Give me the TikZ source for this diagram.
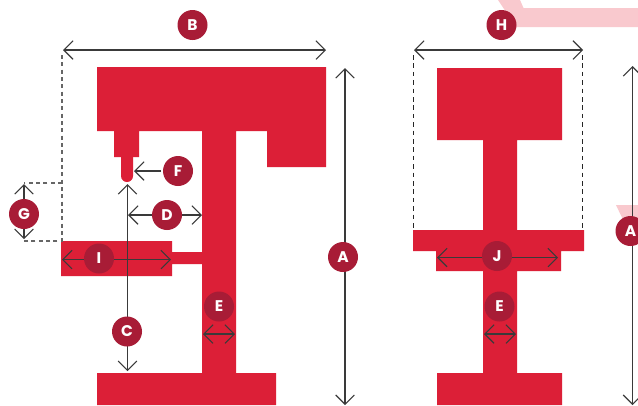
\documentclass[tikz,border=0pt]{standalone}
\usepackage{fontspec}
\setmainfont{Poppins}
\usetikzlibrary{arrows.meta}
\definecolor{partred}{HTML}{DC1F37}
\definecolor{badge}{HTML}{A81C36}
\definecolor{paleband}{HTML}{F9C9CE}
\definecolor{dimline}{HTML}{3A3A3A}
\definecolor{dashgrey}{HTML}{666666}
\tikzset{
  x=0.75pt,y=-0.75pt,
  part/.style={fill=partred,draw=none},
  pale/.style={fill=paleband,draw=none},
  dimen/.style={draw=dimline,line width=1pt,{Straight Barb[length=7pt,width=14pt,line width=0.8pt]}-{Straight Barb[length=7pt,width=14pt,line width=0.8pt]}},
  dimone/.style={draw=dimline,line width=1pt,-{Straight Barb[length=7pt,width=14pt,line width=0.8pt]}},
  guide/.style={draw=dashgrey,line width=1pt,dash pattern=on 3pt off 2.5pt},
  guideblack/.style={draw=black!85,line width=0.8pt,dash pattern=on 3.5pt off 2.8pt},
  tag/.style={circle,fill=badge,draw=none,text=white,minimum size=22.5pt,inner sep=0pt,font=\fontsize{11.6pt}{11.6pt}\selectfont\bfseries},
}
\begin{document}
\begin{tikzpicture}
\useasboundingbox (0,0) rectangle (638,405);
\fill[white] (0,0) rectangle (638,405);
% pale background bands
\fill[pale] (498,0) -- (520,0) -- (523.5,8) -- (638,8) -- (638,27) -- (516,27) -- cycle;
\fill[pale] (616,205) -- (638,205) -- (638,228) -- (627,228) -- cycle;
% left machine
\fill[part] (97,67) -- (326,67) -- (326,167) -- (267,167) -- (267,131) -- (236,131) -- (236,373) -- (276,373) -- (276,405) -- (97,405) -- (97,373) -- (202,373) -- (202,264) -- (172,264) -- (172,276) -- (61,276) -- (61,241) -- (172,241) -- (172,252) -- (202,252) -- (202,131) -- (139,131) -- (139,157) -- (114,157) -- (114,131) -- (97,131) -- cycle;
\fill[part] (121,156) -- (133,156) -- (133,176) arc[start angle=0,end angle=180,radius=6] -- cycle;
% right machine
\fill[part] (437,68) -- (562,68) -- (562,140) -- (517,140) -- (517,230) -- (584,230) -- (584,251) -- (561,251) -- (561,271) -- (517,271) -- (517,373) -- (562,373) -- (562,405) -- (437,405) -- (437,373) -- (483,373) -- (483,271) -- (436,271) -- (436,251) -- (413,251) -- (413,230) -- (483,230) -- (483,140) -- (437,140) -- cycle;
% anchors
\coordinate (aT) at (345,68); \coordinate (aB) at (345,405);
\coordinate (bL) at (63,50); \coordinate (bR) at (326,50);
\coordinate (cT) at (127.5,184); \coordinate (cB) at (127.5,371);
\coordinate (dL) at (128,215); \coordinate (dR) at (202,215);
\coordinate (eL) at (203,334); \coordinate (eR) at (235,334);
\coordinate (fS) at (161,171); \coordinate (fE) at (134,171);
\coordinate (gT) at (24,184); \coordinate (gB) at (24,239);
\coordinate (hL) at (414,50); \coordinate (hR) at (583,50);
\coordinate (iL) at (62,259.5); \coordinate (iR) at (171,259.5);
\coordinate (jL) at (437,257.5); \coordinate (jR) at (558,257.5);
\coordinate (e2L) at (484,334); \coordinate (e2R) at (516,334);
\coordinate (a2T) at (632.5,66); \coordinate (a2B) at (632.5,405);
\coordinate (g1) at (62,55); \coordinate (g2) at (62,241); \coordinate (g3) at (24,183); \coordinate (g4) at (24,241); \coordinate (g5) at (62,183);
\coordinate (h1) at (413.5,55); \coordinate (h2) at (413.5,230); \coordinate (h3) at (582.5,55); \coordinate (h4) at (582.5,230);
% guides
\draw[guide] (g1) -- (g2) -- (g4);
\draw[guide] (g5) -- (g3);
\draw[guideblack] (h1) -- (h2);
\draw[guideblack] (h3) -- (h4);
% dimensions
\draw[dimen] (aT) -- (aB);
\draw[dimen] (bL) -- (bR);
\draw[dimen] (cT) -- (cB);
\draw[dimen] (dL) -- (dR);
\draw[dimen] (eL) -- (eR);
\draw[dimone] (fS) -- (fE);
\draw[dimen] (gT) -- (gB);
\draw[dimen] (hL) -- (hR);
\draw[dimen] (iL) -- (iR);
\draw[dimen] (jL) -- (jR);
\draw[dimen] (e2L) -- (e2R);
\draw[dimen] (a2T) -- (a2B);
% tags
\node[tag] (tagA) at (343,257) {A};
\node[tag] (tagB) at (192.5,25) {B};
\node[tag] (tagC) at (127,331.5) {C};
\node[tag] (tagD) at (167,215) {D};
\node[tag] (tagE) at (219,306.5) {E};
\node[tag] (tagF) at (178,171) {F};
\node[tag] (tagG) at (24,214) {G};
\node[tag] (tagH) at (501.5,25) {H};
\node[tag] (tagI) at (99,258.5) {I};
\node[tag] (tagJ) at (497,256) {J};
\node[tag] (tagEb) at (499.5,306.5) {E};
\node[tag] (tagAb) at (630.5,231) {A};
\end{tikzpicture}
\end{document}
